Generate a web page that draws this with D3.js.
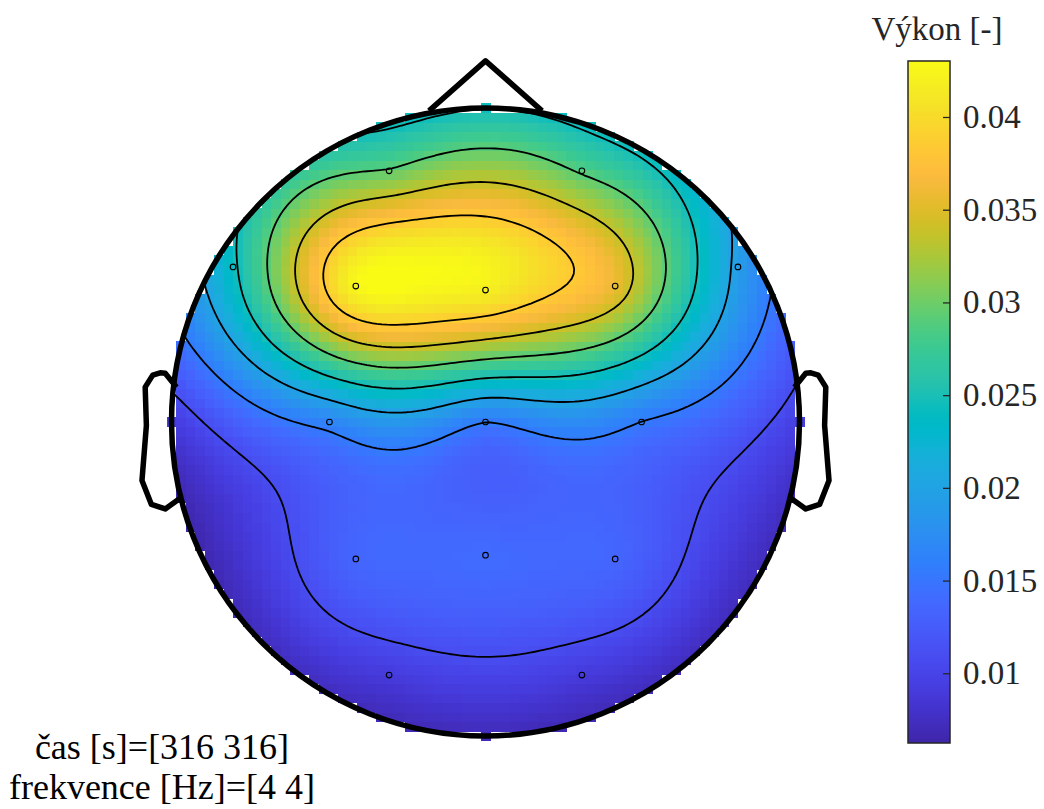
<!DOCTYPE html>
<html>
<head>
<meta charset="utf-8">
<script src="https://cdn.jsdelivr.net/npm/d3@7"></script>
<style>
  body { margin: 0; background: #fff; }
  svg { display: block; }
  text { font-family: "Liberation Serif", "Times New Roman", "DejaVu Serif", serif; }
</style>
</head>
<body>
<svg id="chart" width="1044" height="809"></svg>
<script>
// ---- channel montage (head units, radius 1 = scalp rim) and power values ----
const channels = ["Fp1", "Fp2", "F7", "F3", "Fz", "F4", "F8", "C3", "Cz", "C4", "P3", "Pz", "P4", "O1", "O2", "T3", "T4", "T5", "T6"];
const chanX    = [-0.307, 0.307, -0.804, -0.413, 0.000, 0.413, 0.804, -0.497, 0.000, 0.497, -0.413, 0.000, 0.413, -0.307, 0.307, -1.000, 1.000, -0.810, 0.810];
const chanY    = [ 0.800, 0.800,  0.494,  0.433, 0.420, 0.433, 0.494,  0.000, 0.000, 0.000, -0.436, -0.424, -0.436, -0.806, -0.806, 0.000, 0.000, -0.590, -0.590];
const power    = [0.0295, 0.0288, 0.0240, 0.0425, 0.0418, 0.0357, 0.0192, 0.0165, 0.0155, 0.0154, 0.0135, 0.0140, 0.0135, 0.0090, 0.0090, 0.0090, 0.0094, 0.0068, 0.0070];

// contour levels and colour range
const contourLevels = [0.01084, 0.01544, 0.02004, 0.02463, 0.02923, 0.03383, 0.03843];
const colorDomain = [0.00624, 0.04302];
const colorTicks = [0.01, 0.015, 0.02, 0.025, 0.03, 0.035, 0.04];
const colorTickLabels = ["0.01", "0.015", "0.02", "0.025", "0.03", "0.035", "0.04"];
const colorbarTitle = "Výkon [-]";
const infoLines = ["čas [s]=[316 316]", "frekvence [Hz]=[4 4]"];

// head outline pieces (head units)
const noseX = [-0.18, 0, 0.18];
const noseY = [0.991, 1.15, 0.991];
const earX = [0.984, 1.020, 1.036, 1.0598, 1.0838, 1.080, 1.094, 1.064, 1.020, 0.968];
const earY = [0.111, 0.155, 0.1566, 0.1492, 0.111, -0.011, -0.1864, -0.2626, -0.2768, -0.2398];

// parula colormap
const parula = [
  [0.2422,0.1504,0.6603],[0.2504,0.1650,0.7076],[0.2578,0.1818,0.7511],[0.2647,0.1978,0.7952],
  [0.2706,0.2147,0.8364],[0.2751,0.2342,0.8710],[0.2783,0.2559,0.8991],[0.2803,0.2782,0.9221],
  [0.2813,0.3006,0.9414],[0.2810,0.3228,0.9579],[0.2795,0.3447,0.9717],[0.2760,0.3667,0.9829],
  [0.2699,0.3892,0.9906],[0.2602,0.4123,0.9952],[0.2440,0.4358,0.9988],[0.2206,0.4603,0.9973],
  [0.1963,0.4847,0.9892],[0.1834,0.5074,0.9798],[0.1786,0.5289,0.9682],[0.1764,0.5499,0.9520],
  [0.1687,0.5703,0.9359],[0.1540,0.5902,0.9218],[0.1460,0.6091,0.9079],[0.1380,0.6276,0.8973],
  [0.1248,0.6459,0.8883],[0.1113,0.6635,0.8763],[0.0952,0.6798,0.8598],[0.0689,0.6948,0.8394],
  [0.0297,0.7082,0.8163],[0.0036,0.7203,0.7917],[0.0067,0.7312,0.7660],[0.0433,0.7411,0.7394],
  [0.0964,0.7500,0.7120],[0.1408,0.7584,0.6842],[0.1717,0.7670,0.6554],[0.1938,0.7758,0.6251],
  [0.2161,0.7843,0.5923],[0.2470,0.7918,0.5567],[0.2906,0.7973,0.5188],[0.3406,0.8008,0.4789],
  [0.3909,0.8029,0.4354],[0.4456,0.8024,0.3909],[0.5044,0.7993,0.3480],[0.5616,0.7942,0.3045],
  [0.6174,0.7876,0.2612],[0.6720,0.7793,0.2227],[0.7242,0.7698,0.1910],[0.7738,0.7598,0.1646],
  [0.8203,0.7498,0.1535],[0.8634,0.7406,0.1596],[0.9035,0.7330,0.1774],[0.9393,0.7288,0.2100],
  [0.9728,0.7298,0.2394],[0.9956,0.7434,0.2371],[0.9970,0.7659,0.2199],[0.9952,0.7893,0.2028],
  [0.9892,0.8136,0.1885],[0.9786,0.8386,0.1766],[0.9676,0.8639,0.1643],[0.9610,0.8890,0.1537],
  [0.9597,0.9135,0.1423],[0.9628,0.9373,0.1265],[0.9691,0.9606,0.1064],[0.9769,0.9839,0.0805]
].map(c => d3.rgb(c[0] * 255, c[1] * 255, c[2] * 255).formatHex());

// ---- layout ----
const svg = d3.select("#chart");
const cx = 485.5, cy = 422, R = 314;
const x = d3.scaleLinear().domain([-1, 1]).range([cx - R, cx + R]);
const y = d3.scaleLinear().domain([-1, 1]).range([cy + R, cy - R]);
const color = d3.scaleSequential(d3.piecewise(d3.interpolateRgb, parula)).domain(colorDomain).clamp(true);
const serif = "'Liberation Serif', 'Times New Roman', 'DejaVu Serif', serif";

// ---- biharmonic spline interpolation (Sandwell, as in griddata 'v4') ----
const n = channels.length;
function green(r) { return r === 0 ? 0 : r * r * (Math.log(r) - 1); }
const A = d3.range(n).map(i => d3.range(n).map(j => green(Math.hypot(chanX[i] - chanX[j], chanY[i] - chanY[j]))));
const b = power.slice();
// Gaussian elimination with partial pivoting
for (let k = 0; k < n; k++) {
  let p = k;
  for (let i = k + 1; i < n; i++) if (Math.abs(A[i][k]) > Math.abs(A[p][k])) p = i;
  [A[k], A[p]] = [A[p], A[k]]; [b[k], b[p]] = [b[p], b[k]];
  for (let i = k + 1; i < n; i++) {
    const f = A[i][k] / A[k][k];
    for (let j = k; j < n; j++) A[i][j] -= f * A[k][j];
    b[i] -= f * b[k];
  }
}
const w = new Array(n).fill(0);
for (let i = n - 1; i >= 0; i--) {
  let s = b[i];
  for (let j = i + 1; j < n; j++) s -= A[i][j] * w[j];
  w[i] = s / A[i][i];
}
function field(px, py) {
  let s = 0;
  for (let j = 0; j < n; j++) s += w[j] * green(Math.hypot(px - chanX[j], py - chanY[j]));
  return s;
}

// ---- flat-shaded scalp map on a 67 x 67 grid ----
const N = 67;
const g = d3.range(N).map(i => -1 + 2 * i / (N - 1));
const cellPx = x(g[1]) - x(g[0]);
const cells = [];
for (let j = 0; j < N; j++) for (let i = 0; i < N; i++) {
  if (g[i] * g[i] + g[j] * g[j] <= 1.0) cells.push({ gx: g[i], gy: g[j], v: field(g[i], g[j]) });
}
svg.append("g").selectAll("rect").data(cells).join("rect")
  .attr("x", d => x(d.gx) - cellPx / 2)
  .attr("y", d => y(d.gy) - cellPx / 2)
  .attr("width", cellPx + 0.6)
  .attr("height", cellPx + 0.6)
  .attr("fill", d => color(d.v))
  .attr("shape-rendering", "crispEdges");

// ---- contour lines ----
const M = 141, ext = 1.1;
const cg = d3.range(M).map(i => -ext + 2 * ext * i / (M - 1));
const vals = new Array(M * M);
for (let j = 0; j < M; j++) for (let i = 0; i < M; i++) vals[j * M + i] = field(cg[i], -cg[j]);
const toUnit = c => -ext + 2 * ext * (c - 0.5) / (M - 1);
const contourPath = d3.geoPath(d3.geoTransform({
  point(px, py) { this.stream.point(x(toUnit(px)), y(-toUnit(py))); }
}));
svg.append("defs").append("clipPath").attr("id", "scalpClip")
  .append("circle").attr("cx", cx).attr("cy", cy).attr("r", R);
svg.append("g").attr("clip-path", "url(#scalpClip)")
  .selectAll("path")
  .data(d3.contours().size([M, M]).thresholds(contourLevels)(vals))
  .join("path")
  .attr("d", contourPath)
  .attr("fill", "none")
  .attr("stroke", "#000")
  .attr("stroke-width", 1.8);

// ---- electrodes inside the scalp ----
const shown = d3.range(n).filter(i => Math.hypot(chanX[i], chanY[i]) < 0.98);
svg.append("g").selectAll("circle").data(shown).join("circle")
  .attr("cx", i => x(chanX[i]))
  .attr("cy", i => y(chanY[i]))
  .attr("r", 2.8)
  .attr("fill", "none")
  .attr("stroke", "#000")
  .attr("stroke-width", 1.1);

// ---- head, nose, ears ----
const headG = svg.append("g").attr("fill", "none").attr("stroke", "#000")
  .attr("stroke-width", 5.5).attr("stroke-linejoin", "round");
headG.append("circle").attr("cx", cx).attr("cy", cy).attr("r", R);
const line = d3.line();
headG.append("path").attr("d", line(noseX.map((v, i) => [x(v), y(noseY[i])])));
headG.append("path").attr("d", line(earX.map((v, i) => [x(v), y(earY[i])])));
headG.append("path").attr("d", line(earX.map((v, i) => [x(-v), y(earY[i])])));

// ---- colour bar ----
const cbX = 908, cbW = 42, cbTop = 61, cbBottom = 743;
const cbScale = d3.scaleLinear().domain(colorDomain).range([cbBottom, cbTop]);
const grad = svg.select("defs").append("linearGradient").attr("id", "cbGrad")
  .attr("x1", 0).attr("x2", 0).attr("y1", 1).attr("y2", 0);
grad.selectAll("stop").data(parula).join("stop")
  .attr("offset", (d, i) => i / (parula.length - 1))
  .attr("stop-color", d => d);
svg.append("rect").attr("x", cbX).attr("y", cbTop).attr("width", cbW).attr("height", cbBottom - cbTop)
  .attr("fill", "url(#cbGrad)");
const cbAxis = d3.axisRight(cbScale).tickValues(colorTicks)
  .tickFormat((d, i) => colorTickLabels[i]).tickSize(0).tickPadding(13);
const axG = svg.append("g").attr("transform", `translate(${cbX + cbW},0)`).call(cbAxis)
  .attr("font-family", serif).attr("font-size", 33);
axG.select(".domain").remove();
axG.selectAll("text").style("font-family", serif).attr("fill", "#262626");
axG.selectAll(".tick").append("line").attr("x1", -7).attr("x2", 0)
  .attr("stroke", "#262626").attr("stroke-width", 1.3);
svg.append("rect").attr("x", cbX).attr("y", cbTop).attr("width", cbW).attr("height", cbBottom - cbTop)
  .attr("fill", "none").attr("stroke", "#262626").attr("stroke-width", 1.5);
svg.append("text").attr("x", 937).attr("y", 40).attr("text-anchor", "middle")
  .style("font-family", serif).attr("font-size", 33).attr("fill", "#262626").text(colorbarTitle);

// ---- time / frequency annotation ----
svg.append("g").selectAll("text").data(infoLines).join("text")
  .attr("x", 162).attr("y", (d, i) => 759 + i * 40)
  .attr("text-anchor", "middle").style("font-family", serif).attr("font-size", 36).attr("fill", "#000")
  .text(d => d);
</script>
</body>
</html>
